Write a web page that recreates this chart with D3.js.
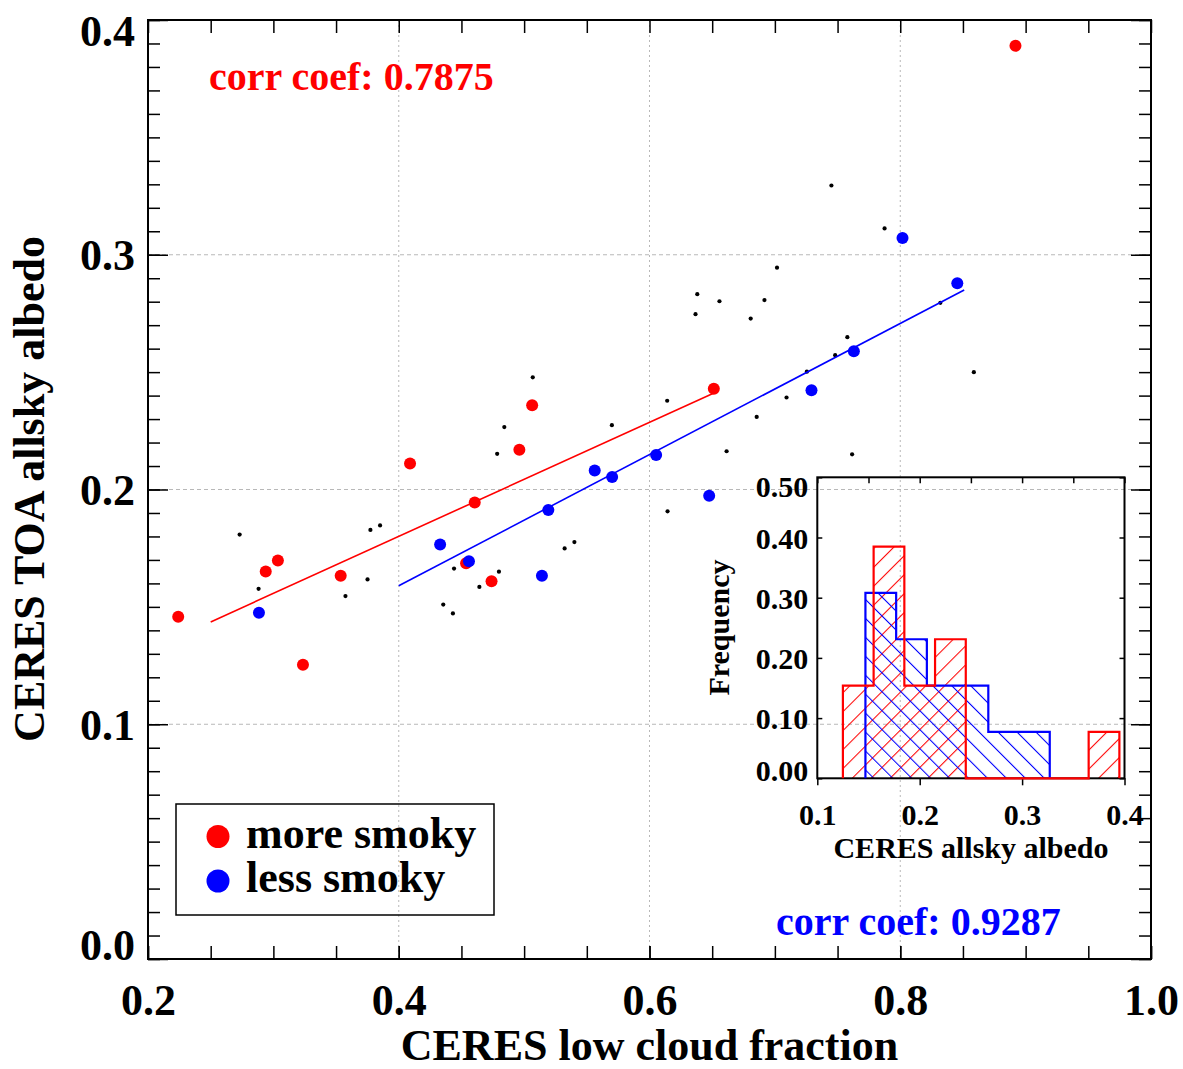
<!DOCTYPE html>
<html><head><meta charset="utf-8">
<script src="https://cdn.jsdelivr.net/npm/d3@7"></script>
<style>
body{margin:0;background:#fff;}
svg text{font-family:"Liberation Serif","Times New Roman",serif;font-weight:bold;}
</style></head><body>
<svg id="c" width="1183" height="1069"></svg>
<script>
// ---------------- data ----------------
const redX  = [0.2241,0.2939,0.3036,0.3236,0.3537,0.4090,0.4537,0.4606,0.4740,0.4962,0.5064,0.6513,0.8919];
const redY  = [0.1458,0.1651,0.1698,0.1253,0.1633,0.2111,0.1686,0.1945,0.1609,0.2169,0.2359,0.2429,0.3890];
const blueX = [0.2885,0.4330,0.4560,0.5142,0.5193,0.5563,0.5702,0.6053,0.6476,0.7292,0.7630,0.8018,0.8455];
const blueY = [0.1475,0.1766,0.1694,0.1633,0.1913,0.2081,0.2053,0.2147,0.1973,0.2423,0.2589,0.3071,0.2879];
const otherX = [0.2731,0.2882,0.3575,0.3751,0.3774,0.3851,0.4355,0.4432,0.4441,0.4643,0.4799,0.4785,
                0.4842,0.5069,0.5323,0.5401,0.5700,0.6144,0.6141,0.6367,0.6381,0.6558,0.6615,0.6807,
                0.6855,0.6917,0.7017,0.7093,0.7255,0.7451,0.7481,0.7578,0.7616,0.7875,0.8320,0.8587];
const otherY = [0.1808,0.1577,0.1546,0.1617,0.1828,0.1847,0.1510,0.1472,0.1663,0.1585,0.1650,0.2152,
                0.2266,0.2478,0.1749,0.1776,0.2274,0.1907,0.2378,0.2747,0.2832,0.2802,0.2163,0.2728,
                0.2309,0.2807,0.2945,0.2392,0.2502,0.3295,0.2572,0.2649,0.2150,0.3112,0.2795,0.2500];
const redFitX  = [0.250, 0.651];
const redFitY  = [0.1436, 0.2410];
const blueFitX = [0.400, 0.851];
const blueFitY = [0.1590, 0.2850];

const xTickValues = [0.2, 0.4, 0.6, 0.8, 1.0];
const yTickValues = [0.0, 0.1, 0.2, 0.3, 0.4];
const xGrid = [0.4, 0.6, 0.8];
const yGrid = [0.1, 0.2, 0.3];
const xTitle = "CERES low cloud fraction";
const yTitle = "CERES TOA allsky albedo";
const corrLabels = ["corr coef: 0.7875", "corr coef: 0.9287"];
const legendLabels = ["more smoky", "less smoky"];

// inset histogram (frequency of albedo)
const histBinWidth = 0.03;
const redHistStart = 0.125;
const redHistFreq  = [0.154, 0.385, 0.154, 0.231, 0, 0, 0, 0, 0.077];
const blueHistStart = 0.147;
const blueHistFreq  = [0.308, 0.231, 0.154, 0.154, 0.077, 0.077];
const histXTicks = [0.1, 0.2, 0.3, 0.4];
const histYTicks = [0.0, 0.1, 0.2, 0.3, 0.4, 0.5];
const histXTitle = "CERES allsky albedo";
const histYTitle = "Frequency";

// ---------------- drawing ----------------
const RED = "#ff0000", BLUE = "#0000ff";
const svg = d3.select("#c");
const L = 148, R = 1151, T = 20, B = 959;
const x = d3.scaleLinear([0.2, 1.0], [L, R]);
const y = d3.scaleLinear([0.0, 0.4], [B, T]);

// hatch patterns
const defs = svg.append("defs");
function hatch(id, color, angle) {
  const p = defs.append("pattern").attr("id", id).attr("patternUnits", "userSpaceOnUse")
    .attr("width", 13.4).attr("height", 20).attr("patternTransform", `rotate(${angle})`);
  p.append("line").attr("x1", 0.5).attr("x2", 0.5).attr("y1", 0).attr("y2", 20)
    .attr("stroke", color).attr("stroke-width", 1.1);
}
hatch("hRed", RED, 45);
hatch("hBlue", BLUE, -45);

// grid
svg.append("g").selectAll("line").data(yGrid).join("line")
  .attr("x1", L).attr("x2", R).attr("y1", d => y(d)).attr("y2", d => y(d))
  .attr("stroke", "#b8b8b8").attr("stroke-width", 1).attr("stroke-dasharray", "4,3");
svg.append("g").selectAll("line").data(xGrid).join("line")
  .attr("y1", T).attr("y2", B).attr("x1", d => x(d)).attr("x2", d => x(d))
  .attr("stroke", "#b8b8b8").attr("stroke-width", 1).attr("stroke-dasharray", "2,3");

// axes
function styleAxis(g, fs) {
  g.select(".domain").remove();
  g.selectAll(".tick line").attr("stroke", "#000").attr("stroke-width", 1.5);
  g.selectAll("text").attr("fill", "#000").style("font-size", fs + "px");
}
const xMinor = d3.range(0.2, 1.0001, 0.05);
const yMinor = d3.range(0, 0.4001, 0.01);
svg.append("g").attr("transform", `translate(0,${B})`)
  .call(d3.axisBottom(x).tickValues(xMinor).tickSize(-13).tickFormat(""))
  .call(g => styleAxis(g, 10));
const xAx = svg.append("g").attr("transform", `translate(0,${B})`)
  .call(d3.axisBottom(x).tickValues(xTickValues).tickSize(-13).tickPadding(25).tickFormat(d3.format(".1f")))
  .call(g => styleAxis(g, 44));
svg.append("g").attr("transform", `translate(0,${T})`)
  .call(d3.axisTop(x).tickValues(xMinor).tickSize(-13).tickFormat(""))
  .call(g => styleAxis(g, 10));
svg.append("g").attr("transform", `translate(${L},0)`)
  .call(d3.axisLeft(y).tickValues(yMinor).tickSize(-12).tickFormat(""))
  .call(g => styleAxis(g, 10));
const yAx = svg.append("g").attr("transform", `translate(${L},0)`)
  .call(d3.axisLeft(y).tickValues(yTickValues).tickSize(-20).tickPadding(13).tickFormat(d3.format(".1f")))
  .call(g => styleAxis(g, 44));
yAx.selectAll("text").attr("dy", (d, i, n) => i === 0 ? "0em" : (i === n.length - 1 ? "0.57em" : "0.34em"));
svg.append("g").attr("transform", `translate(${R},0)`)
  .call(d3.axisRight(y).tickValues(yMinor).tickSize(-12).tickFormat(""))
  .call(g => styleAxis(g, 10));
svg.append("g").attr("transform", `translate(${R},0)`)
  .call(d3.axisRight(y).tickValues(yTickValues).tickSize(-20).tickFormat(""))
  .call(g => styleAxis(g, 10));

svg.append("rect").attr("x", L).attr("y", T).attr("width", R - L).attr("height", B - T)
  .attr("fill", "none").attr("stroke", "#000").attr("stroke-width", 2);

// titles
svg.append("text").attr("x", (L + R) / 2).attr("y", 1060).attr("text-anchor", "middle")
  .style("font-size", "44px").text(xTitle);
svg.append("text").attr("transform", "translate(44,489) rotate(-90)").attr("text-anchor", "middle")
  .style("font-size", "44px").text(yTitle);

// scatter
const pts = svg.append("g");
pts.selectAll(".o").data(otherX.map((v, i) => [v, otherY[i]])).join("circle")
  .attr("cx", d => x(d[0])).attr("cy", d => y(d[1])).attr("r", 2.1).attr("fill", "#000");
const line = d3.line().x(d => x(d[0])).y(d => y(d[1]));
pts.append("path").attr("d", line(redFitX.map((v, i) => [v, redFitY[i]])))
  .attr("stroke", RED).attr("stroke-width", 1.6).attr("fill", "none");
pts.append("path").attr("d", line(blueFitX.map((v, i) => [v, blueFitY[i]])))
  .attr("stroke", BLUE).attr("stroke-width", 1.6).attr("fill", "none");
pts.selectAll(".r").data(redX.map((v, i) => [v, redY[i]])).join("circle").attr("class", "r")
  .attr("cx", d => x(d[0])).attr("cy", d => y(d[1])).attr("r", 6).attr("fill", RED);
pts.selectAll(".b").data(blueX.map((v, i) => [v, blueY[i]])).join("circle").attr("class", "b")
  .attr("cx", d => x(d[0])).attr("cy", d => y(d[1])).attr("r", 6).attr("fill", BLUE);

// corr labels
svg.append("text").attr("x", 209).attr("y", 90).attr("fill", RED).style("font-size", "40px").text(corrLabels[0]);
svg.append("text").attr("x", 776).attr("y", 935).attr("fill", BLUE).style("font-size", "40px").text(corrLabels[1]);

// legend
const lg = svg.append("g");
lg.append("rect").attr("x", 176).attr("y", 804).attr("width", 318).attr("height", 111)
  .attr("fill", "none").attr("stroke", "#000").attr("stroke-width", 1.5);
[RED, BLUE].forEach((c, i) => {
  lg.append("circle").attr("cx", 218).attr("cy", 836.5 + i * 44.5).attr("r", 11.5).attr("fill", c);
  lg.append("text").attr("x", 246).attr("y", 847.5 + i * 44.5).style("font-size", "44px").text(legendLabels[i]);
});

// ---------------- inset histogram ----------------
const iL = 817.3, iR = 1124.5, iT = 477.3, iB = 778.3;
const xi = d3.scaleLinear([0.1, 0.4], [iL, iR]);
const yi = d3.scaleLinear([0.0, 0.5], [iB, iT]);
function histPts(start, w, f) {
  const p = [[start, 0]];
  f.forEach((v, i) => { p.push([start + i * w, v]); p.push([start + (i + 1) * w, v]); });
  p.push([start + f.length * w, 0]);
  return p;
}
const hl = d3.line().x(d => xi(d[0])).y(d => yi(d[1]));
const redP = histPts(redHistStart, histBinWidth, redHistFreq);
const blueP = histPts(blueHistStart, histBinWidth, blueHistFreq);
const ins = svg.append("g");
ins.append("path").attr("d", hl(redP) + "Z").attr("fill", "url(#hRed)").attr("stroke", "none");
ins.append("path").attr("d", hl(blueP) + "Z").attr("fill", "url(#hBlue)").attr("stroke", "none");

// inset axes
const hxMinor = d3.range(0.1, 0.4001, 0.05);
ins.append("g").attr("transform", `translate(0,${iT})`)
  .call(d3.axisTop(xi).tickValues(hxMinor).tickSize(-6).tickFormat(""))
  .call(g => styleAxis(g, 10));
const ixAx = ins.append("g").attr("transform", `translate(0,${iB})`)
  .call(d3.axisBottom(xi).tickValues(histXTicks).tickSize(7).tickFormat(d3.format(".1f")))
  .call(g => styleAxis(g, 30));
ixAx.selectAll("text").attr("y", 47).attr("dy", "0");
const iyAx = ins.append("g").attr("transform", `translate(${iL},0)`)
  .call(d3.axisLeft(yi).tickValues(histYTicks).tickSize(-5).tickPadding(9).tickFormat(d3.format(".2f")))
  .call(g => styleAxis(g, 30));
iyAx.selectAll("text").attr("dy", (d, i, n) => i === 0 ? "0.06em" : (i === n.length - 1 ? "0.65em" : "0.36em"));
ins.append("g").attr("transform", `translate(${iR},0)`)
  .call(d3.axisRight(yi).tickValues(histYTicks).tickSize(-5).tickFormat(""))
  .call(g => styleAxis(g, 10));
ins.append("rect").attr("x", iL).attr("y", iT).attr("width", iR - iL).attr("height", iB - iT)
  .attr("fill", "none").attr("stroke", "#000").attr("stroke-width", 2);

ins.append("path").attr("d", hl(blueP)).attr("fill", "none").attr("stroke", BLUE).attr("stroke-width", 2.2);
ins.append("path").attr("d", hl(redP)).attr("fill", "none").attr("stroke", RED).attr("stroke-width", 2.2);

ins.append("text").attr("x", 971).attr("y", 858).attr("text-anchor", "middle")
  .style("font-size", "30px").text(histXTitle);
ins.append("text").attr("transform", "translate(729,627.5) rotate(-90)").attr("text-anchor", "middle")
  .style("font-size", "30px").text(histYTitle);
</script>
</body></html>
